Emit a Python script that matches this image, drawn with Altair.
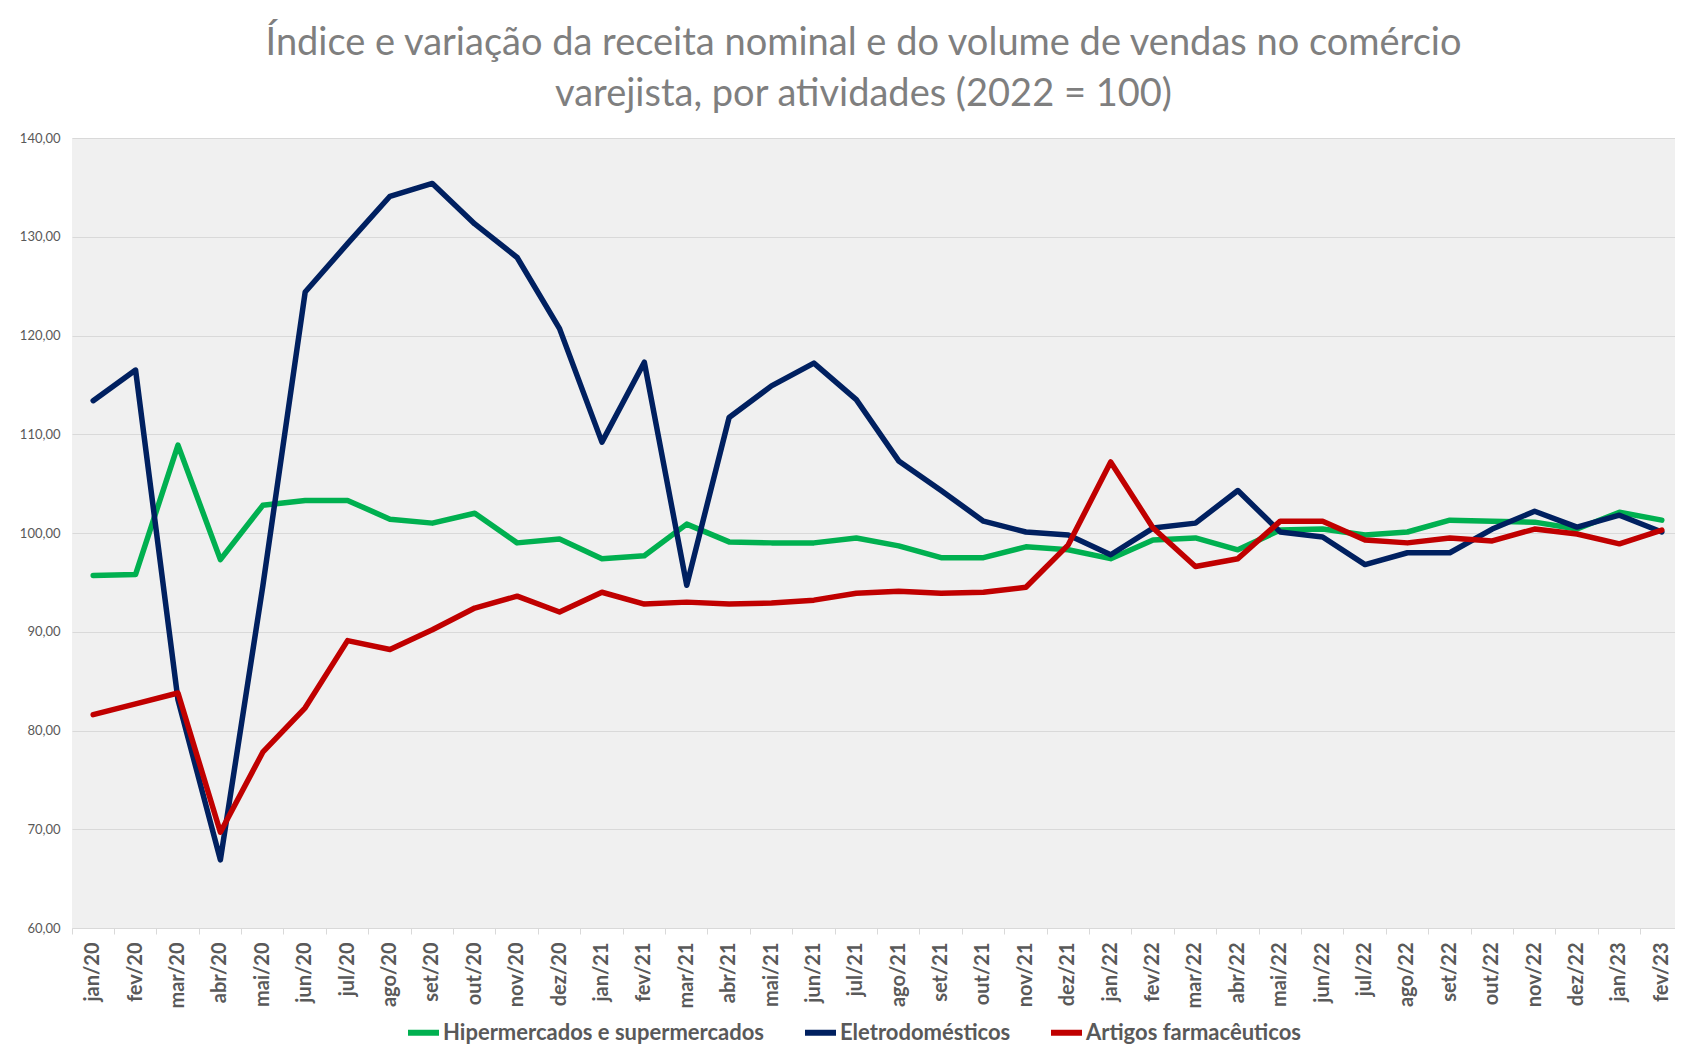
import altair as alt
import pandas as pd

meses = ["jan/20", "fev/20", "mar/20", "abr/20", "mai/20", "jun/20", "jul/20", "ago/20", "set/20", "out/20", "nov/20", "dez/20",
         "jan/21", "fev/21", "mar/21", "abr/21", "mai/21", "jun/21", "jul/21", "ago/21", "set/21", "out/21", "nov/21", "dez/21",
         "jan/22", "fev/22", "mar/22", "abr/22", "mai/22", "jun/22", "jul/22", "ago/22", "set/22", "out/22", "nov/22", "dez/22",
         "jan/23", "fev/23"]

hiper = [95.7, 95.8, 108.9, 97.3, 102.8, 103.3, 103.3, 101.4, 101.0, 102.0, 99.0, 99.4,
         97.4, 97.7, 100.9, 99.1, 99.0, 99.0, 99.5, 98.7, 97.5, 97.5, 98.6, 98.3,
         97.4, 99.3, 99.5, 98.3, 100.3, 100.4, 99.8, 100.1, 101.3, 101.2, 101.1, 100.4,
         102.1, 101.3]

eletro = [113.4, 116.5, 83.1, 66.9, 94.6, 124.4, 129.3, 134.1, 135.4, 131.3, 127.9, 120.7,
          109.2, 117.3, 94.7, 111.7, 114.9, 117.2, 113.5, 107.3, 104.3, 101.2, 100.1, 99.8,
          97.8, 100.5, 101.0, 104.3, 100.1, 99.6, 96.8, 98.0, 98.0, 100.4, 102.2, 100.6,
          101.8, 100.1]

farma = [81.6, 82.7, 83.8, 69.7, 77.8, 82.3, 89.1, 88.2, 90.2, 92.4, 93.6, 92.0,
         94.0, 92.8, 93.0, 92.8, 92.9, 93.2, 93.9, 94.1, 93.9, 94.0, 94.5, 98.8,
         107.2, 100.5, 96.6, 97.4, 101.2, 101.2, 99.3, 99.0, 99.5, 99.2, 100.4, 99.9,
         98.9, 100.3]

series = ["Hipermercados e supermercados", "Eletrodomésticos", "Artigos farmacêuticos"]
cores = ["#00b050", "#002060", "#c00000"]
y_ticks = [60, 70, 80, 90, 100, 110, 120, 130, 140]
titulo = ["Índice e variação da receita nominal e do volume de vendas no comércio",
          "varejista, por atividades (2022 = 100)"]

rows = []
for nome, vals in zip(series, [hiper, eletro, farma]):
    for m, v in zip(meses, vals):
        rows.append({"mes": m, "valor": v, "serie": nome})
df = pd.DataFrame(rows)

color = alt.Color(
    "serie:N",
    scale=alt.Scale(domain=series, range=cores),
    legend=alt.Legend(
        title=None, orient="none", direction="horizontal",
        legendX=333, legendY=876,
        symbolType="stroke", symbolStrokeWidth=6, symbolSize=961,
        labelFont="Lato", labelFontWeight="bold", labelFontSize=22, labelColor="#595959",
        labelOffset=1, columnPadding=28, labelLimit=600,
    ),
)

x = alt.X(
    "mes:N", sort=meses,
    scale=alt.Scale(type="band", paddingInner=0, paddingOuter=0),
    bandPosition=0.5,
    axis=alt.Axis(
        title=None, labelAngle=-90, labelFont="Lato", labelFontWeight="bold", labelFontSize=20,
        labelColor="#595959", tickColor="#d9d9d9", tickSize=6, domainColor="#d9d9d9",
        labelPadding=8, bandPosition=0, grid=False,
    ),
)

y = alt.Y(
    "valor:Q",
    scale=alt.Scale(domain=[60, 140], nice=False, zero=False),
    axis=alt.Axis(
        title=None, values=y_ticks, labelExpr="replace(format(datum.value, '.2f'), '.', ',')",
        labelFont="Lato", labelFontSize=13, labelColor="#595959", labelPadding=12,
        domain=False, ticks=False, gridColor="#d9d9d9", gridWidth=1,
    ),
)

layers = [
    alt.Chart(df).transform_filter(alt.datum.serie == s)
    .mark_line(strokeWidth=5.5, strokeJoin="round", strokeCap="round")
    .encode(x=x, y=y, color=color)
    for s in series
]

chart = alt.layer(*layers).properties(
    width=1611, height=790,
    title=alt.TitleParams(
        text=titulo, font="Lato", fontSize=38, fontWeight="normal", color="#7f7f7f",
        anchor="middle", frame="group", dx=-14, lineHeight=51, offset=18,
    ),
    padding={"left": 64, "top": 130, "right": -8, "bottom": 122},
    autosize=alt.AutoSizeParams(type="none"),
).configure_view(fill="#f0f0f0", stroke=None)

chart.save("out.html", embed_options={"renderer": "svg", "actions": False})
